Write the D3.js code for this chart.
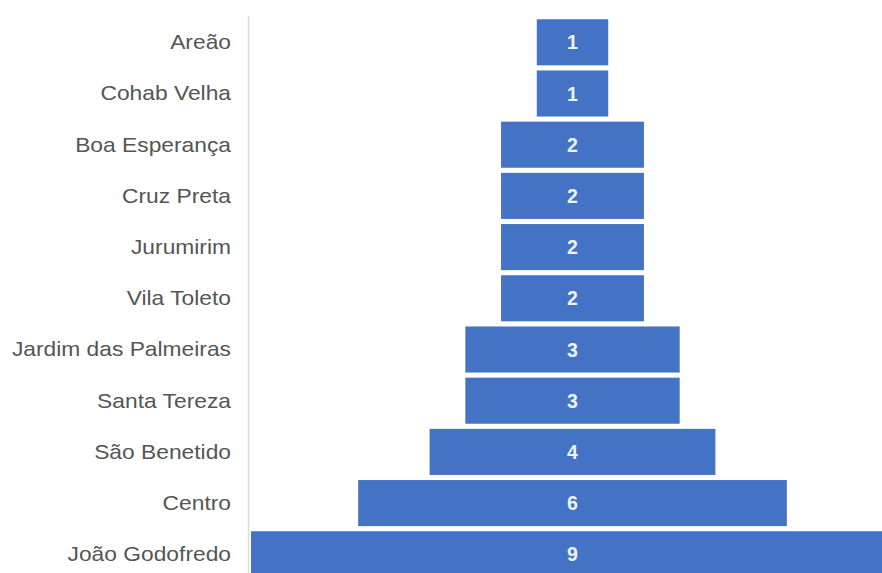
<!DOCTYPE html>
<html>
<head>
<meta charset="utf-8">
<script src="https://cdn.jsdelivr.net/npm/d3@7"></script>
<style>
  html, body { margin: 0; padding: 0; background: #fff; overflow: hidden; }
  svg { display: block; }
</style>
</head>
<body>
<svg id="chart" width="882" height="573"></svg>
<script>
// Neighbourhoods, ordered top to bottom, and their counts
const bairros = [
  "Areão", "Cohab Velha", "Boa Esperança", "Cruz Preta", "Jurumirim",
  "Vila Toleto", "Jardim das Palmeiras", "Santa Tereza", "São Benetido",
  "Centro", "João Godofredo"
];
const quantidades = [1, 1, 2, 2, 2, 2, 3, 3, 4, 6, 9];

const W = 882, H = 573;
const centerX = 572.5;
const axisX = 248.5;

const svg = d3.select("#chart");

const y = d3.scaleBand()
  .domain(bairros)
  .range([16.7, 16.7 + 563.2])
  .paddingInner(0.1)
  .paddingOuter(0.05);

// bar width grows linearly with the count; bars are centred (funnel)
const w = d3.scaleLinear().domain([0, 9]).range([0, 643]);

const data = bairros.map((b, i) => ({ bairro: b, valor: quantidades[i] }));

// vertical baseline next to the category labels
svg.append("line")
  .attr("x1", axisX).attr("x2", axisX)
  .attr("y1", 16).attr("y2", H)
  .attr("stroke", "#dcdcdc").attr("stroke-width", 1.5);

// category labels
svg.append("g").selectAll("text")
  .data(data)
  .join("text")
  .attr("transform", d => `translate(231,${y(d.bairro) + y.bandwidth() / 2 + 6.8}) scale(1.14,1)`)
  .attr("text-anchor", "end")
  .attr("font-family", "'Liberation Sans', Arial, sans-serif")
  .attr("font-size", 20)
  .attr("fill", "#555555")
  .text(d => d.bairro);

// funnel bars
svg.append("g").selectAll("rect")
  .data(data)
  .join("rect")
  .attr("x", d => centerX - w(d.valor) / 2)
  .attr("y", d => y(d.bairro))
  .attr("width", d => w(d.valor))
  .attr("height", y.bandwidth())
  .attr("fill", "#4472c4");

// value labels inside bars
svg.append("g").selectAll("text")
  .data(data)
  .join("text")
  .attr("x", centerX)
  .attr("y", d => y(d.bairro) + y.bandwidth() / 2 + 7)
  .attr("text-anchor", "middle")
  .attr("font-family", "'Liberation Sans', Arial, sans-serif")
  .attr("font-size", 19.5)
  .attr("font-weight", "bold")
  .attr("fill", "#eef3fc")
  .text(d => d.valor);
</script>
</body>
</html>
